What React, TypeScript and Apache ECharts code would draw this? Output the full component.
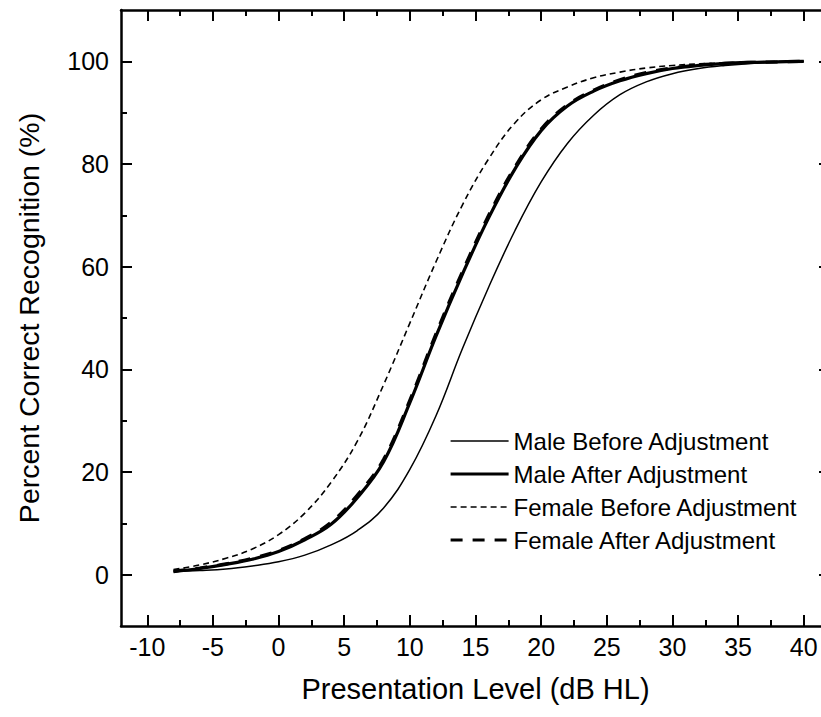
import React, { useEffect, useRef } from "react";
import * as echarts from "echarts";

const FONT = '"Liberation Sans", Arial, Helvetica, sans-serif';

// Presentation level (dB HL)
const levels = [-8, -6, -4, -2, 0, 2, 4, 6, 8, 10, 12, 14, 16, 18, 20, 22, 24, 26, 28, 30, 32, 34, 36, 38, 40];

// Percent correct recognition (%)
const maleBefore = [0.6, 0.8, 1.1, 1.7, 2.5, 3.8, 5.8, 8.6, 13, 20.5, 31, 44, 56, 67, 76.5, 84, 89.5, 93.5, 96, 97.6, 98.6, 99.2, 99.6, 99.8, 100];
const maleAfter = [0.6, 1.2, 2.0, 3.0, 4.5, 6.8, 9.8, 15, 22, 33.5, 46.5, 58.5, 69.5, 79, 86.5, 91.3, 94.2, 96.2, 97.6, 98.6, 99.2, 99.6, 99.8, 99.9, 100];
const femaleBefore = [1.0, 1.9, 3.2, 5.0, 7.8, 12, 18, 26, 37, 49, 61, 72, 81, 88, 92.5, 95, 96.8, 97.9, 98.7, 99.2, 99.5, 99.7, 99.85, 99.95, 100];
const femaleAfter = [0.7, 1.3, 2.1, 3.2, 4.7, 7.0, 10.2, 15.5, 22.5, 34, 47, 59, 70, 79.4, 86.8, 91.5, 94.4, 96.4, 97.8, 98.7, 99.3, 99.6, 99.8, 99.9, 100];

const seriesNames = [
  "Male Before Adjustment",
  "Male After Adjustment",
  "Female Before Adjustment",
  "Female After Adjustment",
];

const xMajor = [-10, -5, 0, 5, 10, 15, 20, 25, 30, 35, 40];
const xMinor = [-7.5, -2.5, 2.5, 7.5, 12.5, 17.5, 22.5, 27.5, 32.5, 37.5];
const yMajor = [0, 20, 40, 60, 80, 100];
const yMinor = [10, 30, 50, 70, 90];

export default function App() {
  const ref = useRef<HTMLDivElement>(null);

  useEffect(() => {
    if (!ref.current) return;
    const chart = echarts.init(ref.current, undefined, { renderer: "svg" });

    const axisLine = { show: true, onZero: false, lineStyle: { color: "#000", width: 2.5 } };
    const noLine = { show: false, onZero: false };
    const X_MIN = -12, X_MAX = 42, Y_MIN = -10, Y_MAX = 110;

    const mkX = (position: string, values: number[], len: number, withLabel: boolean, extra: any = {}) => ({
      type: "value",
      min: X_MIN,
      max: X_MAX,
      position,
      axisLine: withLabel || (position === "top" && len > 8) ? axisLine : noLine,
      axisTick: { show: true, inside: true, length: len, customValues: values, lineStyle: { color: "#000", width: 2 } },
      axisLabel: withLabel
        ? { show: true, customValues: values, fontSize: 25, color: "#000", fontFamily: FONT, margin: 8 }
        : { show: false },
      splitLine: { show: false },
      ...extra,
    });
    const mkY = (position: string, values: number[], len: number, withLabel: boolean, extra: any = {}) => ({
      type: "value",
      min: Y_MIN,
      max: Y_MAX,
      position,
      axisLine: withLabel || (position === "right" && len > 8) ? axisLine : noLine,
      axisTick: { show: true, inside: true, length: len, customValues: values, lineStyle: { color: "#000", width: 2 } },
      axisLabel: withLabel
        ? { show: true, customValues: values, fontSize: 25, color: "#000", fontFamily: FONT, margin: 12 }
        : { show: false },
      splitLine: { show: false },
      ...extra,
    });

    const styles: any[] = [
      { width: 1.5, type: "solid" },
      { width: 3.2, type: "solid" },
      { width: 1.6, type: [6, 4] },
      { width: 3.2, type: [12, 10] },
    ];
    const dataSets = [maleBefore, maleAfter, femaleBefore, femaleAfter];

    chart.setOption({
      animation: false,
      backgroundColor: "#fff",
      grid: { left: 121, top: 10, width: 709, height: 616, containLabel: false },
      legend: {
        orient: "vertical",
        left: 449,
        top: 429,
        padding: 0,
        itemWidth: 58,
        itemHeight: 14,
        itemGap: 9,
        data: seriesNames.map((name, i) => ({
          name,
          itemStyle: { opacity: 0, borderWidth: 0 },
          lineStyle: { color: "#000", width: styles[i].width, type: styles[i].type },
        })),
        itemStyle: { opacity: 0, borderWidth: 0 },
        lineStyle: { width: "inherit", type: "inherit" },
        textStyle: { fontSize: 24, color: "#000", fontFamily: FONT, lineHeight: 24 },
      },
      xAxis: [
        mkX("bottom", xMajor, 11, true, {
          name: "Presentation Level (dB HL)",
          nameLocation: "middle",
          nameGap: 48,
          nameTextStyle: { fontSize: 29, color: "#000", fontFamily: FONT },
        }),
        mkX("bottom", xMinor, 6, false),
        mkX("top", xMajor, 11, false),
        mkX("top", xMinor, 6, false),
      ],
      yAxis: [
        mkY("left", yMajor, 11, true, {
          name: "Percent Correct Recognition (%)",
          nameLocation: "middle",
          nameGap: 78,
          nameTextStyle: { fontSize: 28.5, color: "#000", fontFamily: FONT },
        }),
        mkY("left", yMinor, 6, false),
        mkY("right", yMajor, 11, false),
        mkY("right", yMinor, 6, false),
      ],
      series: seriesNames.map((name, i) => ({
        name,
        type: "line",
        xAxisIndex: 0,
        yAxisIndex: 0,
        smooth: 0.4,
        symbol: "none",
        showSymbol: false,
        lineStyle: { color: "#000", ...styles[i] },
        itemStyle: { color: "#000" },
        data: levels.map((x, j) => [x, dataSets[i][j]]),
      })),
    });

    return () => chart.dispose();
  }, []);

  return (
    <div style={{ position: "fixed", left: 0, top: 0, width: 821, height: 717, overflow: "hidden", background: "#fff" }}>
      <div ref={ref} style={{ width: 840, height: 717 }} />
    </div>
  );
}
